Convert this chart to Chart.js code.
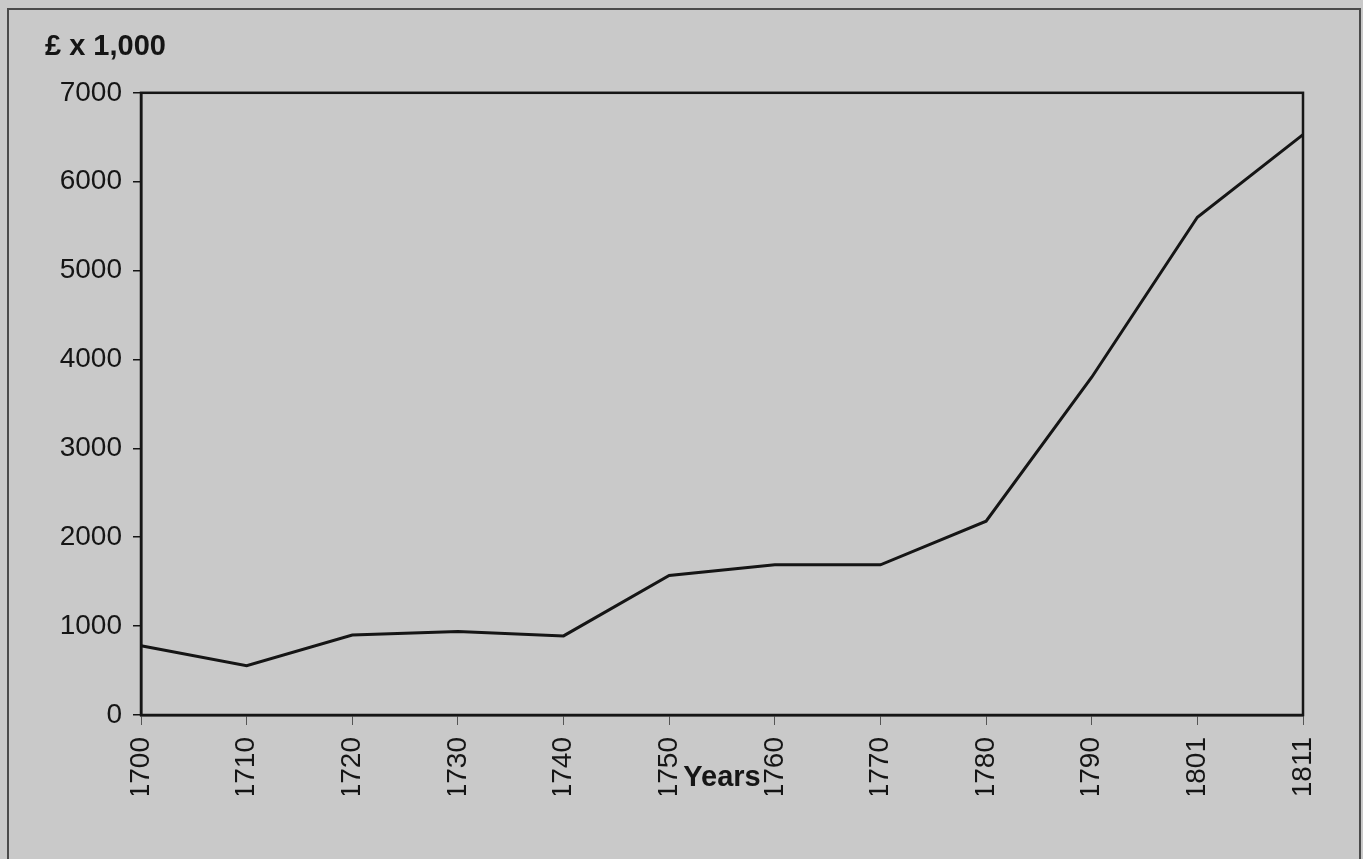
<!DOCTYPE html>
<html>
<head>
<meta charset="utf-8">
<script src="https://cdn.jsdelivr.net/npm/chart.js@4/dist/chart.umd.min.js"></script>
<style>
  html, body { margin: 0; padding: 0; background: #c9c9c9; overflow: hidden; }
  #frame { position: absolute; left: 7px; top: 8px; width: 1350px; height: 900px; border: 2px solid #4a4a4a; }
  #wrap { position: absolute; left: 0; top: 0; width: 1363px; height: 859px; }
</style>
</head>
<body>
<div id="frame"></div>
<div id="wrap"><canvas id="chartIncome"></canvas></div>
<script>
const years = ['1700', '1710', '1720', '1730', '1740', '1750', '1760', '1770', '1780', '1790', '1801', '1811'];
const income = [780, 555, 900, 940, 890, 1570, 1690, 1690, 2180, 3800, 5600, 6530];
const yTicks = [0, 1000, 2000, 3000, 4000, 5000, 6000, 7000];

(function () {
  const ink = '#151515';
  Chart.defaults.font.family = '"Liberation Sans", Arial, sans-serif';
  Chart.defaults.color = ink;

  // box round the plot area (top and right sides have no axis of their own)
  const plotFrame = {
    id: 'plotFrame',
    afterDatasetsDraw(chart) {
      const a = chart.chartArea;
      const ctx = chart.ctx;
      ctx.save();
      ctx.strokeStyle = ink;
      ctx.lineWidth = 2.5;
      ctx.strokeRect(a.left, a.top, a.right - a.left, a.bottom - a.top);
      ctx.restore();
    },
  };

  new Chart(document.getElementById('chartIncome'), {
    type: 'line',
    data: {
      labels: years,
      datasets: [{
        data: income,
        borderColor: ink,
        borderWidth: 3,
        pointRadius: 0,
        tension: 0,
        fill: false,
      }],
    },
    options: {
      responsive: true,
      maintainAspectRatio: false,
      animation: false,
      layout: { padding: { top: 8, left: 45, right: 60, bottom: 64 } },
      plugins: {
        legend: { display: false },
        tooltip: { enabled: false },
        title: {
          display: true,
          text: '£ x 1,000',
          align: 'start',
          color: ink,
          font: { size: 29, weight: 'bold' },
          padding: { top: 22, bottom: 28 },
        },
      },
      scales: {
        x: {
          grid: { drawOnChartArea: false, drawTicks: true, tickLength: 10, color: '#555', lineWidth: 1 },
          border: { color: ink, width: 2.5 },
          ticks: { maxRotation: 90, minRotation: 90, padding: 12, font: { size: 28 }, color: ink, autoSkip: false },
          title: { display: true, text: 'Years', color: ink, font: { size: 29, weight: 'bold' }, padding: 0 },
          afterFit(scale) { scale.height = 80; },
        },
        y: {
          min: 0,
          max: 7000,
          afterBuildTicks(scale) { scale.ticks = yTicks.map(v => ({ value: v })); },
          grid: { drawOnChartArea: false, drawTicks: true, tickLength: 8, color: ink, lineWidth: 1.5 },
          border: { color: ink, width: 2.5 },
          ticks: { padding: 11, font: { size: 28 }, color: ink, callback: v => String(v) },
          afterFit(scale) { scale.width = 96; },
        },
      },
    },
    plugins: [plotFrame],
  });
})();
</script>
</body>
</html>
